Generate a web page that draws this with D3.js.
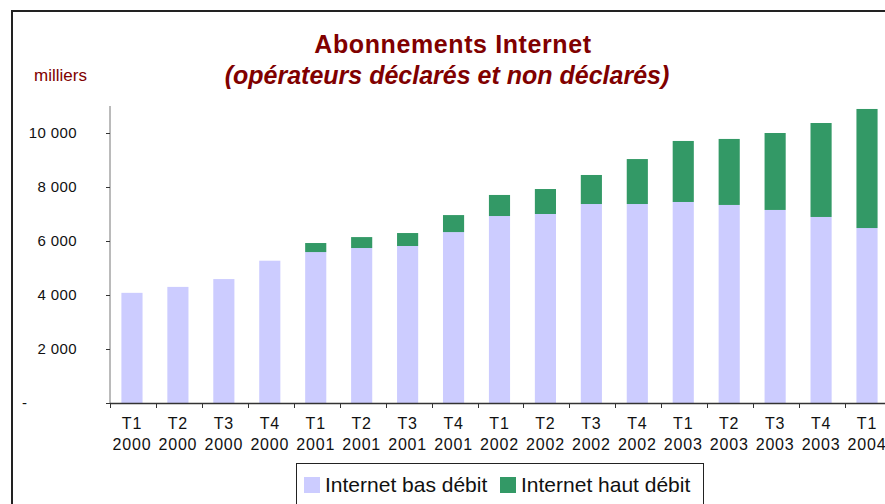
<!DOCTYPE html>
<html>
<head>
<meta charset="utf-8">
<script src="https://cdn.jsdelivr.net/npm/d3@7/dist/d3.min.js"></script>
<style>
	body { margin: 0; background: #fff; }
	svg text { font-family: Arial, "Liberation Sans", sans-serif; }
</style>
</head>
<body>
<div class="chart"></div>
<script>
//data (milliers d'abonnements)
var quarters = ["T1", "T2", "T3", "T4", "T1", "T2", "T3", "T4", "T1", "T2", "T3", "T4", "T1", "T2", "T3", "T4", "T1"];
var years = ["2000", "2000", "2000", "2000", "2001", "2001", "2001", "2001", "2002", "2002", "2002", "2002", "2003", "2003", "2003", "2003", "2004"];
var basDebit = [4080, 4300, 4590, 5270, 5590, 5740, 5815, 6330, 6925, 7000, 7370, 7370, 7445, 7335, 7150, 6890, 6480];
var hautDebit = [0, 0, 0, 0, 335, 405, 480, 630, 780, 925, 1075, 1665, 2260, 2445, 2850, 3480, 4410];
var yTicks = [0, 2000, 4000, 6000, 8000, 10000];
var seriesNames = ["Internet bas débit", "Internet haut débit"];
var seriesColors = ["#ccccff", "#339966"];

var width = 885,
	height = 504;

var svg = d3.select('.chart')
	.append('svg')
	.attr('width', width)
	.attr('height', height);

//outer frame
svg.append('path')
	.attr('d', 'M12,' + height + 'V11H' + width)
	.attr('fill', 'none')
	.attr('stroke', '#222')
	.attr('stroke-width', 2);

//titles
svg.append('text')
	.attr('x', 453)
	.attr('y', 53)
	.attr('text-anchor', 'middle')
	.attr('font-size', 25)
	.attr('font-weight', 'bold')
	.attr('letter-spacing', 0.6)
	.attr('fill', '#800000')
	.text('Abonnements Internet');

svg.append('text')
	.attr('x', 447)
	.attr('y', 84)
	.attr('text-anchor', 'middle')
	.attr('font-size', 25)
	.attr('font-weight', 'bold')
	.attr('font-style', 'italic')
	.attr('fill', '#800000')
	.text('(opérateurs déclarés et non déclarés)');

svg.append('text')
	.attr('x', 34)
	.attr('y', 81)
	.attr('font-size', 17)
	.attr('fill', '#800000')
	.text('milliers');

//scales
var idx = d3.range(quarters.length);

var xScale = d3.scaleBand()
	.domain(idx)
	.range([109, 109 + 45.94 * quarters.length])
	.paddingInner(0.54)
	.paddingOuter(0.27);

var yScale = d3.scaleLinear()
	.domain([0, 11000])
	.range([403, 106]);

var fmt = d3.formatLocale({ decimal: ",", thousands: " ", grouping: [3], currency: ["", ""] }).format(",");

//stacked bars
var rows = idx.map(function (i) {
	return { i: i, bas: basDebit[i], haut: hautDebit[i] };
});
var stack = d3.stack().keys(["bas", "haut"])(rows);

svg.append('g')
	.attr('class', 'bars')
	.selectAll('g')
	.data(stack)
	.enter().append('g')
	.attr('fill', function (d, k) { return seriesColors[k]; })
	.selectAll('rect')
	.data(function (d) { return d; })
	.enter().append('rect')
	.attr('x', function (d) { return xScale(d.data.i); })
	.attr('width', xScale.bandwidth())
	.attr('y', function (d) { return yScale(d[1]); })
	.attr('height', function (d) { return yScale(d[0]) - yScale(d[1]); });

//y axis
var yAxis = d3.axisLeft()
	.scale(yScale)
	.tickValues(yTicks)
	.tickSize(4)
	.tickFormat('');

var gy = svg.append('g')
	.attr('class', 'y axis')
	.attr('transform', 'translate(110,0)')
	.call(yAxis);
gy.select('.domain').attr('stroke', '#777').attr('d', 'M0,' + yScale.range()[1] + 'V' + yScale(0));
gy.selectAll('.tick line').attr('stroke', '#333');

svg.append('g')
	.selectAll('text')
	.data(yTicks)
	.enter().append('text')
	.attr('x', function (d) { return d === 0 ? 22 : 77; })
	.attr('y', function (d) { return yScale(d) + 5; })
	.attr('text-anchor', function (d) { return d === 0 ? 'start' : 'end'; })
	.attr('font-size', 15)
	.attr('letter-spacing', 0.4)
	.attr('fill', '#111')
	.text(function (d) { return d === 0 ? '-' : fmt(d); });

//x axis
var step = xScale.step();
var gx = svg.append('g').attr('class', 'x axis');
gx.append('line')
	.attr('x1', 110)
	.attr('x2', width)
	.attr('y1', yScale(0) + 0.5)
	.attr('y2', yScale(0) + 0.5)
	.attr('stroke', '#333')
	.attr('stroke-width', 1.5);
gx.selectAll('line.tick')
	.data(d3.range(quarters.length + 1))
	.enter().append('line')
	.attr('class', 'tick')
	.attr('x1', function (i) { return Math.round(xScale.range()[0] + 1 + i * step) + 0.5; })
	.attr('x2', function (i) { return Math.round(xScale.range()[0] + 1 + i * step) + 0.5; })
	.attr('y1', yScale(0))
	.attr('y2', yScale(0) + 5)
	.attr('stroke', '#333');

var lab = gx.selectAll('text')
	.data(idx)
	.enter().append('text')
	.attr('text-anchor', 'middle')
	.attr('font-size', 16)
	.attr('letter-spacing', 0.8)
	.attr('fill', '#111');
lab.append('tspan')
	.attr('x', function (i) { return xScale(i) + xScale.bandwidth() / 2; })
	.attr('y', 429)
	.text(function (i) { return quarters[i]; });
lab.append('tspan')
	.attr('x', function (i) { return xScale(i) + xScale.bandwidth() / 2; })
	.attr('y', 450)
	.text(function (i) { return years[i]; });

//legend
var legend = svg.append('g').attr('class', 'legend');
legend.append('rect')
	.attr('x', 296.5)
	.attr('y', 463.5)
	.attr('width', 407)
	.attr('height', 60)
	.attr('fill', '#fff')
	.attr('stroke', '#222');
var legendX = [304, 500];
var item = legend.selectAll('g')
	.data(seriesNames)
	.enter().append('g')
	.attr('transform', function (d, k) { return 'translate(' + legendX[k] + ',477)'; });
item.append('rect')
	.attr('width', 16)
	.attr('height', 16)
	.attr('fill', function (d, k) { return seriesColors[k]; });
item.append('text')
	.attr('x', 21)
	.attr('y', 15)
	.attr('font-size', 21)
	.attr('fill', '#111')
	.text(function (d) { return d; });
</script>
</body>
</html>
